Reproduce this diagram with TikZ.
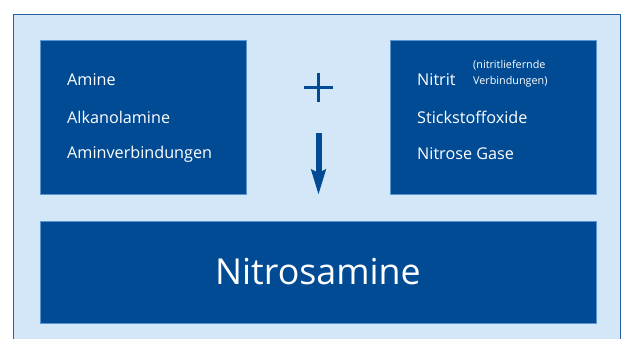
\documentclass[tikz,border=0pt]{standalone}
\usepackage{fontspec}
\setmainfont{Open Sans}
\usetikzlibrary{arrows.meta}
\definecolor{db}{RGB}{0, 75, 148}
\definecolor{lb}{RGB}{212, 231, 248}
\definecolor{fr}{RGB}{38, 96, 162}
\definecolor{eg}{RGB}{90, 150, 210}

\begin{document}
\begin{tikzpicture}[every node/.style={inner sep=0pt},
  box/.style={rectangle, fill=db, draw=eg, line width=0.6pt},
  txt/.style={anchor=west, text=white, font=\fontsize{16.2pt}{18pt}\selectfont},
  small/.style={anchor=west, text=white, align=left, font=\fontsize{10.8pt}{16pt}\selectfont}]
\useasboundingbox (0pt, 0pt) rectangle (622pt, -338pt);
\fill [lb] (13.5pt, -14.5pt) rectangle (620.5pt, -345pt);
\draw [fr, line width=1.2pt] (13.5pt, -345pt) -- (13.5pt, -14.5pt) -- (620.5pt, -14.5pt) -- (620.5pt, -345pt);
\node (amin) [box, minimum width=206pt, minimum height=154pt] at (143pt, -117.5pt) {};
\node (nitr) [box, minimum width=206pt, minimum height=154pt] at (493pt, -117.5pt) {};
\node (nsa) [box, minimum width=556pt, minimum height=102pt] at (318pt, -272pt)
  {\textcolor{white}{\fontsize{35.8pt}{40pt}\selectfont Nitrosamine}};
\node (a1) [txt] at (67pt, -80pt) {Amine};
\node (a2) [txt] at (67pt, -117pt) {Alkanolamine};
\node (a3) [txt] at (67pt, -154pt) {Aminverbindungen};
\node (n1) [txt] at (417pt, -80pt) {Nitrit};
\node (n0) [small] at (473pt, -74pt) {(nitritliefernde\\Verbindungen)};
\node (n2) [txt] at (417pt, -117pt) {Stickstoffoxide};
\node (n3) [txt] at (417pt, -154pt) {Nitrose Gase};
\node (plus) [minimum size=29pt] at (318.5pt, -87.5pt) {};
\draw [db, line width=3pt] (plus.north) -- (plus.south);
\draw [db, line width=3pt] (plus.west) -- (plus.east);
\coordinate (top) at (318.5pt, -133pt);
\coordinate (tip) at (318.5pt, -195pt);
\draw [db, line width=6pt, -{Stealth[length=25pt, width=14pt, inset=3pt]}] (top) -- (tip);
\end{tikzpicture}
\end{document}
